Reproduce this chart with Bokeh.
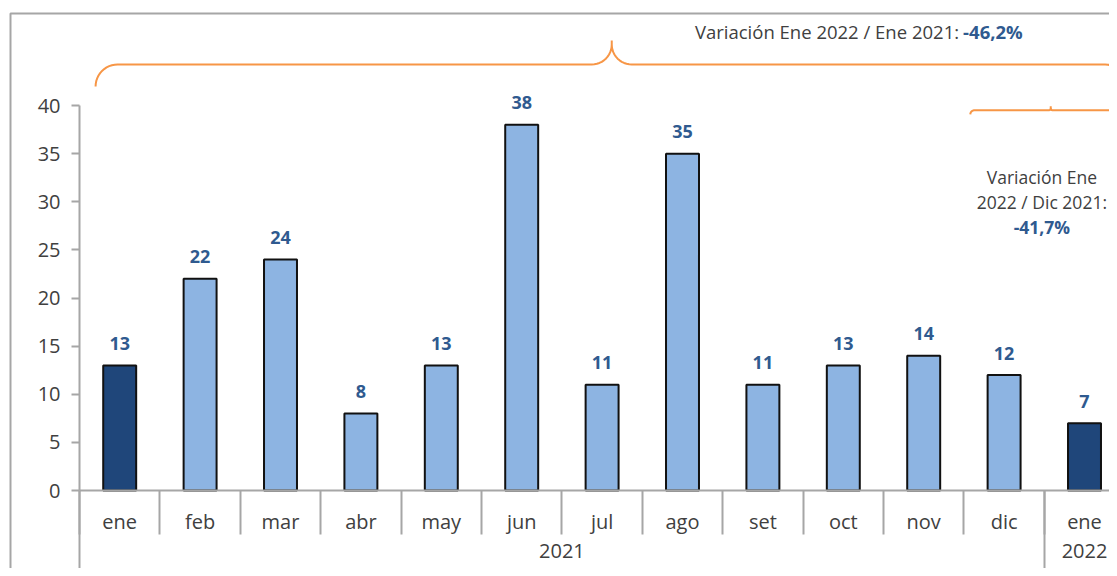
from bokeh.plotting import figure
from bokeh.models import Range1d, FixedTicker, LinearAxis, ColumnDataSource
from bokeh.embed import file_html
from bokeh.resources import INLINE
from bokeh.core.properties import value
import math

# ---------------- data ----------------
months = ["ene", "feb", "mar", "abr", "may", "jun", "jul", "ago", "set", "oct", "nov", "dic", "ene"]
years = ["2021"] * 12 + ["2022"]
counts = [13, 22, 24, 8, 13, 38, 11, 35, 11, 13, 14, 12, 7]
y_ticks = [0, 5, 10, 15, 20, 25, 30, 35, 40]
note_year = ["Variación Ene 2022 / Ene 2021:", "-46,2%"]
note_month = ["Variación Ene", "2022 / Dic 2021:", "-41,7%"]

# ---------------- styles ----------------
FONT = "Open Sans"
TXT = "#404040"
BLUE = "#2F5A8F"
DARK = "#1F467A"
LIGHT = "#8DB4E2"
GRAY = "#A6A6A6"
ORANGE = "#F79646"

W, H = 1109, 568
PX_X = 80.4            # px per category
PX_Y = 9.625           # px per unit
X0_PX, Y0_PX = 79, 490  # position of the origin inside the figure
X_START = -X0_PX / PX_X
X_END = (W - X0_PX) / PX_X
Y_START = -(H - Y0_PX) / PX_Y
Y_END = Y0_PX / PX_Y

p = figure(width=W, height=H, x_range=Range1d(X_START, X_END), y_range=Range1d(Y_START, Y_END),
           output_backend="svg", toolbar_location=None,
           x_axis_type=None, y_axis_type=None,
           min_border_left=0, min_border_right=0, min_border_top=0, min_border_bottom=0)
p.outline_line_color = None
p.background_fill_color = "white"
p.border_fill_color = "white"

n = len(months)
centers = [i + 0.5 for i in range(n)]
edges = list(range(n + 1))
colors = [DARK if m == "ene" else LIGHT for m in months]

# chart-area border (top and left)
bx0 = X_START + 10 / PX_X
by0 = Y_END - 13 / PX_Y
p.line([bx0, bx0, X_END], [Y_START, by0, by0], line_color=GRAY, line_width=2)

src = ColumnDataSource(dict(x=centers, top=counts, color=colors,
                            label=[str(v) for v in counts]))
p.vbar(x="x", top="top", width=0.41, bottom=0, source=src, fill_color="color",
       line_color="#111111", line_width=2)
p.text(x="x", y="top", text="label", source=src, y_offset=-22,
       text_align="center", text_baseline="middle", text_color=BLUE,
       text_font=value(FONT), text_font_style="bold", text_font_size="18px")


# ---------------- axes ----------------
def base_axis(ticker, overrides=None, **kw):
    ax = LinearAxis(ticker=ticker, fixed_location=0, **kw)
    if overrides:
        ax.major_label_overrides = overrides
    ax.axis_line_color = None
    ax.major_tick_line_color = None
    ax.minor_tick_line_color = None
    ax.major_tick_in = 0
    ax.major_tick_out = 0
    ax.major_label_text_font = FONT
    ax.major_label_text_font_size = "20px"
    ax.major_label_text_color = TXT
    return ax


yax = base_axis(FixedTicker(ticks=y_ticks), bounds=(y_ticks[0], y_ticks[-1]))
yax.axis_line_color = GRAY
yax.axis_line_width = 2
yax.major_tick_line_color = GRAY
yax.major_tick_line_width = 2
yax.major_tick_out = 8
yax.major_label_standoff = 11
p.add_layout(yax, "left")

# month separators + x axis line
xsep = base_axis(FixedTicker(ticks=edges), bounds=(0, X_END))
xsep.axis_line_color = GRAY
xsep.axis_line_width = 2
xsep.major_tick_line_color = GRAY
xsep.major_tick_line_width = 2
xsep.major_tick_out = 44
xsep.major_label_text_color = None
p.add_layout(xsep, "below")

# month labels
xlab = base_axis(FixedTicker(ticks=centers), {c: m for c, m in zip(centers, months)})
xlab.major_label_standoff = 17
p.add_layout(xlab, "below")

# years
year_names = []
for y in years:
    if y not in year_names:
        year_names.append(y)
year_centers = []
year_edges = [0]
for y in year_names:
    idx = [i for i, yy in enumerate(years) if yy == y]
    year_centers.append((idx[0] + idx[-1] + 1) / 2)
    year_edges.append(idx[-1] + 1)

ysep = base_axis(FixedTicker(ticks=year_edges))
ysep.major_tick_line_color = GRAY
ysep.major_tick_line_width = 2
ysep.major_tick_out = 100
ysep.major_label_text_color = None
p.add_layout(ysep, "below")

ylab = base_axis(FixedTicker(ticks=year_centers), {c: y for c, y in zip(year_centers, year_names)})
ylab.major_label_standoff = 53
p.add_layout(ylab, "below")


# ---------------- braces ----------------
def arc(cx, cy, r, a0, a1, k=12):
    return [(cx + r * math.cos(a0 + (a1 - a0) * t / k), cy + r * math.sin(a0 + (a1 - a0) * t / k))
            for t in range(k + 1)]


def brace(left, right, mid, level, r_end, r_mid, tip):
    L = 0.0
    R = (right - left) * PX_X
    M = (mid - left) * PX_X
    pts = []
    pts += arc(L + r_end, -r_end, r_end, math.pi, math.pi / 2)
    pts += arc(M - r_mid, r_mid, r_mid, -math.pi / 2, 0)
    pts += [(M, r_mid + tip)]
    pts += arc(M + r_mid, r_mid, r_mid, math.pi, 3 * math.pi / 2)
    pts += arc(R - r_end, -r_end, r_end, math.pi / 2, 0)
    xs = [left + px / PX_X for px, _ in pts]
    ys = [level + py / PX_Y for _, py in pts]
    return xs, ys


bx, by = brace(0.2, 13.03, 6.62, 44.26, 22, 20, 4)
p.line(bx, by, line_color=ORANGE, line_width=2)
sx, sy = brace(11.08, 13.07, 12.08, 39.5, 4, 2, 2)
p.line(sx, sy, line_color=ORANGE, line_width=2)

# ---------------- notes ----------------
p.text(x=[10.94], y=[47.64], text=[note_year[0]], text_align="right", text_baseline="middle",
       text_color=TXT, text_font=value(FONT), text_font_size="18.5px")
p.text(x=[10.99], y=[47.64], text=[note_year[1]], text_align="left", text_baseline="middle",
       text_color=BLUE, text_font=value(FONT), text_font_size="18.5px", text_font_style="bold")

p.text(x=[11.97, 11.97], y=[32.6, 30.0], text=note_month[:2], text_align="center",
       text_baseline="middle", text_color=TXT, text_font=value(FONT), text_font_size="17.5px")
p.text(x=[11.97], y=[27.4], text=[note_month[2]], text_align="center",
       text_baseline="middle", text_color=BLUE, text_font=value(FONT), text_font_size="17.5px",
       text_font_style="bold")

open("out.html", "w").write(file_html(p, INLINE))
